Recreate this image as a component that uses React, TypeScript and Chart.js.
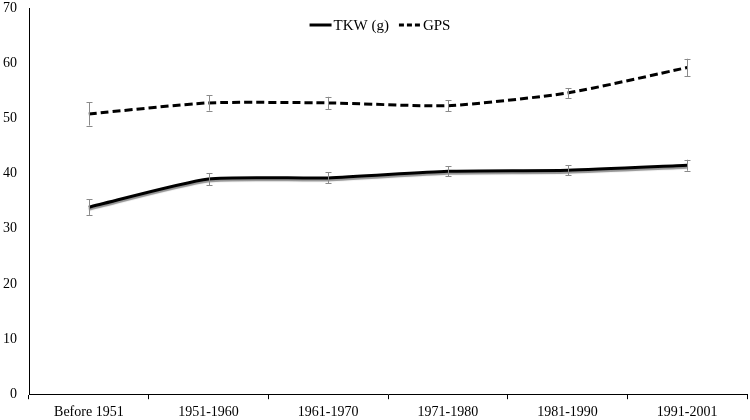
import React, { useEffect, useRef } from "react";
import { Chart, registerables } from "chart.js";

Chart.register(...registerables);

const categories = ["Before 1951", "1951-1960", "1961-1970", "1971-1980", "1981-1990", "1991-2001"];
const tkwValues = [33.9, 39.0, 39.2, 40.4, 40.6, 41.5];
const tkwErrors = [1.4, 1.1, 1.0, 0.9, 0.9, 1.0];
const gpsValues = [50.8, 52.8, 52.8, 52.3, 54.6, 59.2];
const gpsErrors = [2.1, 1.4, 1.1, 1.0, 0.9, 1.6];
const yTicks = [0, 10, 20, 30, 40, 50, 60, 70];

const errorsByDataset = [tkwErrors, gpsErrors];
const FONT_FAMILY = "'Liberation Serif', 'Times New Roman', serif";

const errorBarPlugin = {
  id: "errorBars",
  afterDatasetsDraw(chart: any) {
    const ctx = chart.ctx;
    const y = chart.scales.y;
    ctx.save();
    ctx.strokeStyle = "#8a8a8a";
    ctx.lineWidth = 1;
    ctx.setLineDash([]);
    chart.data.datasets.forEach((ds: any, di: number) => {
      const meta = chart.getDatasetMeta(di);
      const errs = errorsByDataset[di];
      meta.data.forEach((pt: any, i: number) => {
        const v = ds.data[i];
        const e = errs[i];
        const x = Math.round(pt.x) + 0.5;
        const top = y.getPixelForValue(v + e);
        const bot = y.getPixelForValue(v - e);
        ctx.beginPath();
        ctx.moveTo(x, top);
        ctx.lineTo(x, bot);
        ctx.moveTo(x - 3, Math.round(top) + 0.5);
        ctx.lineTo(x + 3, Math.round(top) + 0.5);
        ctx.moveTo(x - 3, Math.round(bot) + 0.5);
        ctx.lineTo(x + 3, Math.round(bot) + 0.5);
        ctx.stroke();
      });
    });
    ctx.restore();
  },
};

const shadowPlugin = {
  id: "lineShadow",
  beforeDatasetDraw(chart: any, args: any) {
    if (args.index === 0) {
      chart.ctx.save();
      chart.ctx.shadowColor = "rgba(120,120,120,0.8)";
      chart.ctx.shadowOffsetY = 2;
      chart.ctx.shadowBlur = 1;
    }
  },
  afterDatasetDraw(chart: any, args: any) {
    if (args.index === 0) {
      chart.ctx.restore();
    }
  },
};

const legendPlugin = {
  id: "customLegend",
  afterDraw(chart: any) {
    const ctx = chart.ctx;
    ctx.save();
    ctx.font = `15px ${FONT_FAMILY}`;
    ctx.fillStyle = "#000";
    ctx.strokeStyle = "#000";
    ctx.lineWidth = 3;
    ctx.textBaseline = "middle";
    const lineW = 22;
    const gapText = 2;
    const gapItem = 10;
    const items = chart.data.datasets.map((ds: any) => ({
      label: ds.label,
      dash: ds.borderDash || [],
      w: lineW + gapText + ctx.measureText(ds.label).width,
    }));
    const total = items.reduce((s: number, it: any) => s + it.w, 0) + gapItem * (items.length - 1);
    let x = chart.width / 2 + 5 - total / 2;
    const y = 25;
    items.forEach((it: any) => {
      ctx.setLineDash(it.dash.length ? [5, 3] : []);
      ctx.beginPath();
      ctx.moveTo(x, y);
      ctx.lineTo(x + lineW, y);
      ctx.stroke();
      ctx.setLineDash([]);
      ctx.fillText(it.label, x + lineW + gapText, y + 1);
      x += it.w + gapItem;
    });
    ctx.restore();
  },
};

export default function App() {
  const ref = useRef<HTMLCanvasElement>(null);
  useEffect(() => {
    document.body.style.margin = "0";
    const font = { family: FONT_FAMILY, size: 14 };
    const chart = new Chart(ref.current!, {
      type: "line",
      data: {
        labels: categories,
        datasets: [
          {
            label: "TKW (g)",
            data: tkwValues,
            borderColor: "#000",
            backgroundColor: "#000",
            borderWidth: 3,
            pointRadius: 0,
            tension: 0.2,
          },
          {
            label: "GPS",
            data: gpsValues,
            borderColor: "#000",
            backgroundColor: "#000",
            borderWidth: 3,
            borderDash: [8, 4],
            pointRadius: 0,
            tension: 0.2,
          },
        ],
      },
      options: {
        animation: false,
        responsive: false,
        layout: { autoPadding: false, padding: { top: 8, right: 3, left: -9, bottom: -6 } },
        plugins: {
          legend: { display: false },
          tooltip: { enabled: false },
        },
        scales: {
          x: {
            offset: true,
            grid: { display: true, drawOnChartArea: false, drawTicks: true, tickLength: 5, offset: true, color: "#000" },
            border: { display: true, color: "#000", width: 1 },
            ticks: { color: "#000", font, padding: 5, maxRotation: 0 },
          },
          y: {
            min: 0,
            max: 70,
            afterBuildTicks: (axis: any) => {
              axis.ticks = yTicks.map((v) => ({ value: v }));
            },
            afterFit: (axis: any) => {
              axis.paddingTop = 0;
              axis.paddingBottom = 0;
            },
            grid: { display: false, drawTicks: false },
            border: { display: true, color: "#000", width: 1 },
            ticks: { color: "#000", font, padding: 12 },
          },
        },
      },
      plugins: [shadowPlugin, errorBarPlugin, legendPlugin],
    });
    return () => chart.destroy();
  }, []);
  return (
    <div style={{ width: 750, height: 420 }}>
      <canvas ref={ref} width={750} height={420} />
    </div>
  );
}
